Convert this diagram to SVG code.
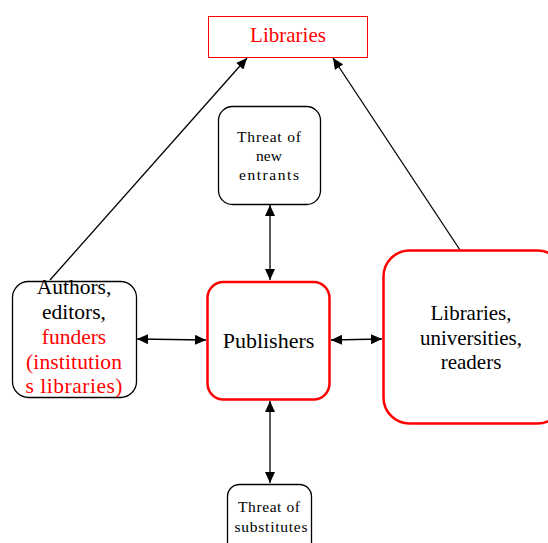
<svg xmlns="http://www.w3.org/2000/svg" width="548" height="543" viewBox="0 0 548 543">
<style>
text{font-family:"Liberation Serif","Times New Roman",serif;text-anchor:middle}
.blk{fill:#fff;stroke:#000;stroke-width:1.3}
.red{fill:#fff;stroke:#f00;stroke-width:2.5}
.c{stroke:#000;stroke-width:1.3;fill:none}
.r{fill:#f00}
</style>
<defs>
<marker id="ah" markerWidth="11" markerHeight="10" refX="11" refY="5" orient="auto-start-reverse" markerUnits="userSpaceOnUse">
<path d="M0,0 L11,5 L0,10 Z" fill="#000"/>
</marker>
</defs>
<rect width="548" height="543" fill="#fff"/>
<g id="connectors">
<line class="c" x1="50" y1="280" x2="247" y2="58" marker-end="url(#ah)"/>
<line class="c" x1="460" y1="250" x2="333" y2="58" marker-end="url(#ah)"/>
<line class="c" x1="137" y1="339" x2="206" y2="340" marker-start="url(#ah)" marker-end="url(#ah)"/>
<line class="c" x1="331" y1="340" x2="382" y2="339" marker-start="url(#ah)" marker-end="url(#ah)"/>
<line class="c" x1="270" y1="205" x2="270" y2="280" marker-start="url(#ah)" marker-end="url(#ah)"/>
<line class="c" x1="270" y1="401" x2="270" y2="483" marker-start="url(#ah)" marker-end="url(#ah)"/>
</g>
<g id="libraries">
<rect x="208.5" y="16.5" width="159" height="41" fill="#fff" stroke="#f00" stroke-width="1"/>
<text x="288" y="42" font-size="21" class="r">Libraries</text>
</g>
<g id="new-entrants">
<rect class="blk" x="218.5" y="106.5" width="102" height="98" rx="14"/>
<text x="269" y="142" font-size="15.5" textLength="64" lengthAdjust="spacing">Threat of</text>
<text x="269" y="161" font-size="15.5">new</text>
<text x="269" y="180" font-size="15.5" textLength="60" lengthAdjust="spacing">entrants</text>
</g>
<g id="authors">
<rect class="blk" x="12.5" y="281.5" width="124" height="116" rx="16"/>
<text x="74" y="294" font-size="21.5">Authors,</text>
<text x="74" y="319" font-size="21.5">editors,</text>
<text x="74" y="344" font-size="21.5" class="r">funders</text>
<text x="74" y="369" font-size="21.5" class="r" textLength="96" lengthAdjust="spacing">(institution</text>
<text x="74" y="393" font-size="21.5" class="r" textLength="97" lengthAdjust="spacing">s libraries)</text>
</g>
<g id="publishers">
<rect class="red" x="207.5" y="282" width="122" height="117.5" rx="16"/>
<text x="268.5" y="348" font-size="22">Publishers</text>
</g>
<g id="readers">
<rect class="red" x="383.5" y="250.5" width="180" height="173" rx="26"/>
<text x="471" y="320" font-size="21">Libraries,</text>
<text x="471" y="345" font-size="21">universities,</text>
<text x="471" y="369" font-size="21">readers</text>
</g>
<g id="substitutes">
<rect class="blk" x="227.5" y="484.5" width="84" height="70" rx="12"/>
<text x="269" y="512" font-size="15.5" textLength="62" lengthAdjust="spacing">Threat of</text>
<text x="271" y="532" font-size="15.5" textLength="73" lengthAdjust="spacing">substitutes</text>
</g>
</svg>
